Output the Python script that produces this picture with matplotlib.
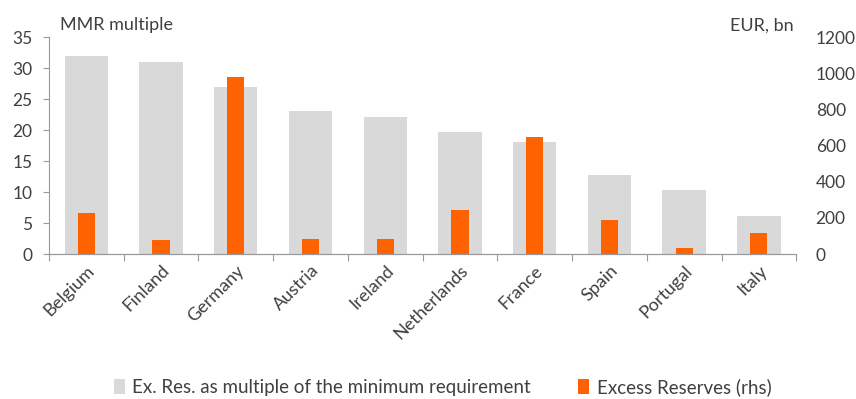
import matplotlib.pyplot as plt
from matplotlib.patches import Patch
import matplotlib.transforms as mtransforms
import numpy as np

# datos
paises = ['Belgium', 'Finland', 'Germany', 'Austria', 'Ireland',
          'Netherlands', 'France', 'Spain', 'Portugal', 'Italy']
multiplo_mmr = [32.0, 31.0, 27.0, 23.0, 22.1, 19.7, 18.0, 12.7, 10.4, 6.2]
exceso_reservas = [225, 76, 980, 81, 81, 243, 647, 186, 35, 114]

gris = '#d9d9d9'
naranja = '#ff6200'
texto = '#404040'
linea = '#999999'

plt.rcParams['font.family'] = ['Lato', 'DejaVu Sans']
plt.rcParams['text.color'] = texto

fig = plt.figure(figsize=(8.56, 3.99), dpi=100)
ax = fig.add_axes([0.0572, 0.3634, 0.873, 0.5436])
ax2 = ax.twinx()

x = np.arange(len(paises))
ax.bar(x, multiplo_mmr, width=0.58, color=gris, zorder=1)
ax2.bar(x, exceso_reservas, width=0.23, color=naranja, zorder=2)

ax.set_xlim(-0.5, len(paises) - 0.5)
ax.set_ylim(0, 35)
ax2.set_ylim(0, 1200)
ax.set_yticks(np.arange(0, 36, 5))
ax2.set_yticks(np.arange(0, 1201, 200))

# ticks del eje x en los bordes de cada categoria
ax.set_xticks(np.arange(-0.5, len(paises), 1))
ax.set_xticklabels([])
ax.set_xticks(x, minor=True)
etiquetas = ax.set_xticklabels(paises, minor=True, rotation=45, ha='right',
                               rotation_mode='anchor', fontsize=13, color=texto)
desplazamiento = mtransforms.ScaledTranslation(6 / 100, 0, fig.dpi_scale_trans)
for et in etiquetas:
    et.set_transform(et.get_transform() + desplazamiento)
ax.tick_params(axis='x', which='major', length=5, color=linea, direction='out')
ax.tick_params(axis='x', which='minor', length=0, pad=6)

ax.tick_params(axis='y', length=4, color=linea, labelsize=12.5, labelcolor=texto, pad=8)
ax2.tick_params(axis='y', length=0, labelsize=12.5, labelcolor=texto, pad=14)

for a in (ax, ax2):
    for s in ('top', 'right'):
        a.spines[s].set_visible(False)
    a.spines['bottom'].set_color(linea)
    a.spines['left'].set_color(linea)
ax2.spines['left'].set_visible(False)

ax.set_zorder(ax2.get_zorder() - 1)
ax2.patch.set_visible(False)

fig.text(0.070, 0.937, 'MMR multiple', fontsize=13, va='center', ha='left')
fig.text(0.927, 0.937, 'EUR, bn', fontsize=13, va='center', ha='right')

manejadores = [Patch(facecolor=gris, label='Ex. Res. as multiple of the minimum requirement'),
               Patch(facecolor=naranja, label='Excess Reserves (rhs)')]
fig.legend(handles=manejadores, loc='center', bbox_to_anchor=(0.517, 0.03),
           ncol=2, frameon=False, fontsize=13.5, handlelength=0.6, handleheight=0.9,
           handletextpad=0.4, columnspacing=2.5)

fig.savefig('out.png', dpi=100)
